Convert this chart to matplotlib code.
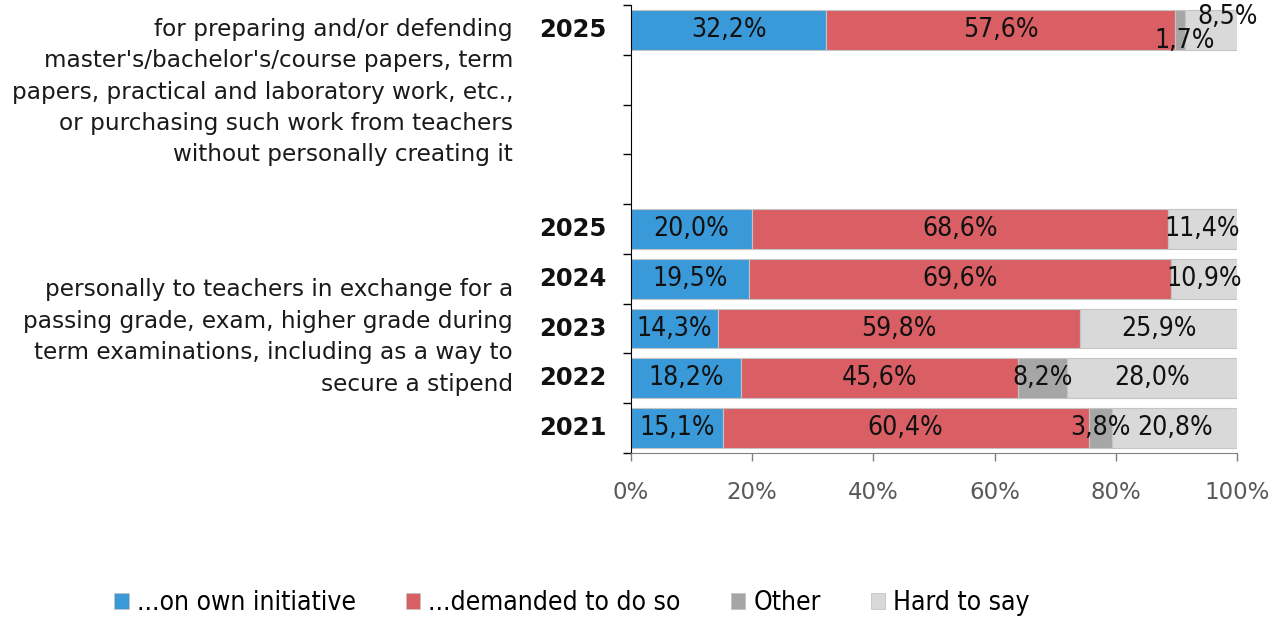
import matplotlib
matplotlib.use("Agg")
import matplotlib.pyplot as plt
from matplotlib.patches import Patch
from matplotlib import font_manager
import numpy as np

# Survey answers, per row (top to bottom); None marks an empty spacer row
row_years = ["2025", None, None, None, "2025", "2024", "2023", "2022", "2021"]
own_initiative = [32.2, 0, 0, 0, 20.0, 19.5, 14.3, 18.2, 15.1]
demanded = [57.6, 0, 0, 0, 68.6, 69.6, 59.8, 45.6, 60.4]
other = [1.7, 0, 0, 0, 0.0, 0.0, 0.0, 8.2, 3.8]
hard_to_say = [8.5, 0, 0, 0, 11.4, 10.9, 25.9, 28.0, 20.8]

series_names = ["...on own initiative", "...demanded to do so", "Other", "Hard to say"]
series_colors = ["#3A99D8", "#D95F64", "#A6A6A6", "#D9D9D9"]

group_labels = [
    "for preparing and/or defending\nmaster's/bachelor's/course papers, term\n"
    "papers, practical and laboratory work, etc.,\nor purchasing such work from teachers\n"
    "without personally creating it",
    "personally to teachers in exchange for a\npassing grade, exam, higher grade during\n"
    "term examinations, including as a way to\nsecure a stipend",
]


def narrow_font():
    """Pick a condensed sans face for value labels and the legend."""
    for f in font_manager.fontManager.ttflist:
        if f.name == "Liberation Sans Narrow":
            return {"family": "Liberation Sans Narrow"}
    return {"family": "DejaVu Sans", "stretch": "condensed"}


NARROW = narrow_font()

fig = plt.figure(figsize=(12.74, 6.19), dpi=100)
ax = fig.add_axes([631 / 1274, 1 - 453 / 619, 606 / 1274, 448 / 619])

rows = [i for i, y in enumerate(row_years) if y is not None]
series = [own_initiative, demanded, other, hard_to_say]
left = np.zeros(len(row_years))
for vals, color in zip(series, series_colors):
    v = np.array(vals, dtype=float)
    ax.barh(rows, v[rows], left=left[rows], height=0.8, color=color,
            edgecolor="#C4C4C4", linewidth=0.8, zorder=2)
    for r in rows:
        if v[r] <= 0:
            continue
        cx = left[r] + v[r] / 2
        dx, dy = 0, 0
        if r == 0 and vals is other:
            dx, dy = 3, -8
        if r == 0 and vals is hard_to_say:
            dx, dy = 12, 9
        ax.annotate(f"{v[r]:.1f}%".replace(".", ","), (cx, r), xytext=(dx, dy),
                    textcoords="offset points", ha="center", va="center",
                    fontsize=19, color="#111111", zorder=3,
                    fontfamily=NARROW["family"], fontstretch=NARROW.get("stretch", "normal"))
    left += v

ax.set_xlim(0, 100)
ax.set_ylim(len(row_years) - 0.5, -0.5)
ax.set_xticks(np.arange(0, 101, 20))
ax.set_xticklabels([f"{t}%" for t in range(0, 101, 20)], fontsize=16.5, color="#595959")
ax.set_yticks(np.arange(-0.5, len(row_years), 1.0))
ax.set_yticklabels([])
ax.tick_params(axis="y", length=6, width=1, color="#000000", direction="out")
ax.tick_params(axis="x", length=6, width=1, color="#808080", direction="out", pad=14)
for s in ["top", "right"]:
    ax.spines[s].set_visible(False)
ax.spines["left"].set_color("#000000")
ax.spines["bottom"].set_color("#808080")

# Year labels
for r in rows:
    ax.text(-0.04, r, row_years[r], ha="right", va="center", fontsize=17.5,
            fontweight="bold", transform=ax.get_yaxis_transform(), color="#111111")

# Group descriptions
fig.text(513 / 1274, 1 - 92 / 619, group_labels[0], ha="right", va="center",
         fontsize=16.7, linespacing=1.47, color="#1a1a1a")
fig.text(513 / 1274, 1 - 337 / 619, group_labels[1], ha="right", va="center",
         fontsize=16.7, linespacing=1.47, color="#1a1a1a")

handles = [Patch(facecolor=c, edgecolor="#C4C4C4", linewidth=0.6) for c in series_colors]
fig.legend(handles, series_names, loc="center", bbox_to_anchor=(572 / 1274, 1 - 603 / 619),
           ncol=4, frameon=False,
           prop={"family": NARROW["family"], "stretch": NARROW.get("stretch", "normal"), "size": 19},
           handlelength=0.55, handleheight=0.55, handletextpad=0.3, columnspacing=1.9)

fig.savefig("out.png", dpi=100)
